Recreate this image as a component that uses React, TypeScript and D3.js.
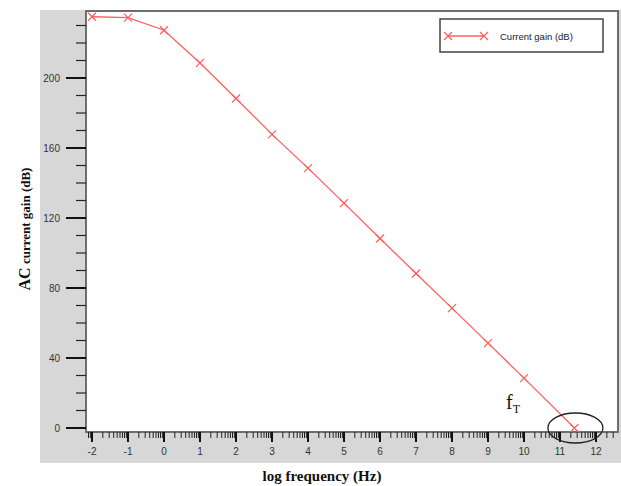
import { useEffect, useRef } from 'react'
import * as d3 from 'd3'

// log frequency (Hz) vs AC current gain (dB)
const logFreq = [-2, -1, 0, 1, 2, 3, 4, 5, 6, 7, 8, 9, 10, 11.4]
const gainDb = [235, 234.5, 227.3, 208.6, 188.3, 167.8, 148.5, 128.5, 108.3, 88.3, 68.5, 48.5, 28.5, 0]
const xTicks = [-2, -1, 0, 1, 2, 3, 4, 5, 6, 7, 8, 9, 10, 11, 12]
const yTicks = [0, 40, 80, 120, 160, 200]
const seriesName = 'Current gain (dB)'
const fTPoint = 11.4

export default function App() {
  const ref = useRef<SVGSVGElement>(null)

  useEffect(() => {
    const svg = d3.select(ref.current)
    svg.selectAll('*').remove()
    const width = 621
    const frame = { left: 86, right: 618, top: 11, bottom: 432 }

    const x = d3.scaleLinear().domain([-2, 12]).range([92, 596])
    const y = d3.scaleLinear().domain([0, 200]).range([428, 78])

    // gray panel + white plot area
    svg.append('rect').attr('x', 40).attr('y', 10).attr('width', width - 40).attr('height', 453).attr('fill', '#d7d7d7')
    svg
      .append('rect')
      .attr('x', frame.left)
      .attr('y', frame.top)
      .attr('width', frame.right - frame.left)
      .attr('height', frame.bottom - frame.top)
      .attr('fill', '#fff')
      .attr('stroke', '#6e6e6e')
      .attr('stroke-width', 2)

    // y axis ticks
    const yMinor = d3.range(0, 240, 10).filter(v => y(v) > frame.top + 2)
    svg
      .selectAll('line.ymin')
      .data(yMinor.filter(v => v % 40 !== 0))
      .enter()
      .append('line')
      .attr('x1', 76)
      .attr('x2', frame.left)
      .attr('y1', d => y(d))
      .attr('y2', d => y(d))
      .attr('stroke', '#222')
      .attr('stroke-width', 1.2)
    svg
      .selectAll('line.ymaj')
      .data(yTicks)
      .enter()
      .append('line')
      .attr('x1', 66)
      .attr('x2', frame.left)
      .attr('y1', d => y(d))
      .attr('y2', d => y(d))
      .attr('stroke', '#111')
      .attr('stroke-width', 2)
    svg
      .selectAll('text.ylab')
      .data(yTicks)
      .enter()
      .append('text')
      .attr('x', 60)
      .attr('y', d => y(d) + 3.5)
      .attr('text-anchor', 'end')
      .attr('font-family', 'Liberation Sans, Arial, sans-serif')
      .attr('font-size', 10)
      .attr('fill', '#333')
      .text(d => d)

    // x axis ticks: majors at integers, log minors between
    const xMinor: number[] = []
    for (let k = -3; k <= 12; k++) {
      for (let m = 2; m <= 9; m++) {
        const v = k + Math.log10(m)
        if (x(v) > frame.left + 1 && x(v) < frame.right - 1) xMinor.push(v)
      }
    }
    svg
      .selectAll('line.xmin')
      .data(xMinor)
      .enter()
      .append('line')
      .attr('x1', d => x(d))
      .attr('x2', d => x(d))
      .attr('y1', frame.bottom)
      .attr('y2', frame.bottom + 6)
      .attr('stroke', '#222')
      .attr('stroke-width', 1)
    svg
      .selectAll('line.xmaj')
      .data(xTicks)
      .enter()
      .append('line')
      .attr('x1', d => x(d))
      .attr('x2', d => x(d))
      .attr('y1', frame.bottom)
      .attr('y2', frame.bottom + 10)
      .attr('stroke', '#111')
      .attr('stroke-width', 2)
    svg
      .selectAll('text.xlab')
      .data(xTicks)
      .enter()
      .append('text')
      .attr('x', d => x(d))
      .attr('y', 455)
      .attr('text-anchor', 'middle')
      .attr('font-family', 'Liberation Sans, Arial, sans-serif')
      .attr('font-size', 10)
      .attr('fill', '#333')
      .text(d => d)

    // series
    const pts = logFreq.map((f, i) => [f, gainDb[i]] as [number, number])
    const line = d3.line<[number, number]>().x(d => x(d[0])).y(d => y(d[1]))
    svg.append('path').attr('d', line(pts)).attr('fill', 'none').attr('stroke', '#ff5f5f').attr('stroke-width', 1.3)
    const cross = (g: any, cx: number, cy: number, s: number) => {
      g.append('path')
        .attr('d', `M${cx - s},${cy - s}L${cx + s},${cy + s}M${cx - s},${cy + s}L${cx + s},${cy - s}`)
        .attr('stroke', '#ff5f5f')
        .attr('stroke-width', 1.2)
        .attr('fill', 'none')
    }
    pts.forEach(p => cross(svg, x(p[0]), y(p[1]), 4))

    // legend
    svg.append('rect').attr('x', 440).attr('y', 19).attr('width', 163).attr('height', 33).attr('fill', '#fff').attr('stroke', '#444').attr('stroke-width', 1.5)
    svg.append('line').attr('x1', 448).attr('x2', 484).attr('y1', 36).attr('y2', 36).attr('stroke', '#ff5f5f').attr('stroke-width', 1.3)
    cross(svg, 448, 36, 4)
    cross(svg, 484, 36, 4)
    svg
      .append('text')
      .attr('x', 500)
      .attr('y', 39.5)
      .attr('font-family', 'Liberation Sans, Arial, sans-serif')
      .attr('font-size', 9.5)
      .attr('fill', '#222')
      .text(seriesName)

    // fT annotation
    svg
      .append('ellipse')
      .attr('cx', x(fTPoint) + 1)
      .attr('cy', y(0))
      .attr('rx', 27.5)
      .attr('ry', 15)
      .attr('fill', 'none')
      .attr('stroke', '#222')
      .attr('stroke-width', 1.3)
    const ft = svg
      .append('text')
      .attr('x', 506)
      .attr('y', 409)
      .attr('font-family', 'Liberation Serif, Times New Roman, serif')
      .attr('font-size', 20)
      .attr('fill', '#111')
    ft.append('tspan').text('f')
    ft.append('tspan').attr('font-size', 12).attr('dy', 4).text('T')

    // axis titles
    svg
      .append('text')
      .attr('x', 322)
      .attr('y', 481)
      .attr('text-anchor', 'middle')
      .attr('font-family', 'Liberation Serif, Times New Roman, serif')
      .attr('font-weight', 'bold')
      .attr('font-size', 15)
      .attr('fill', '#111')
      .text('log frequency (Hz)')
    const yt = svg
      .append('text')
      .attr('transform', 'translate(30,229) rotate(-90)')
      .attr('text-anchor', 'middle')
      .attr('font-family', 'Liberation Serif, Times New Roman, serif')
      .attr('font-weight', 'bold')
      .attr('font-size', 13)
      .attr('fill', '#111')
    yt.append('tspan').attr('font-size', 16).text('AC')
    yt.append('tspan').text(' current gain (dB)')
  }, [])

  return <svg ref={ref} width={621} height={486} style={{ position: 'absolute', left: 0, top: 0, background: '#fff' }} />
}
